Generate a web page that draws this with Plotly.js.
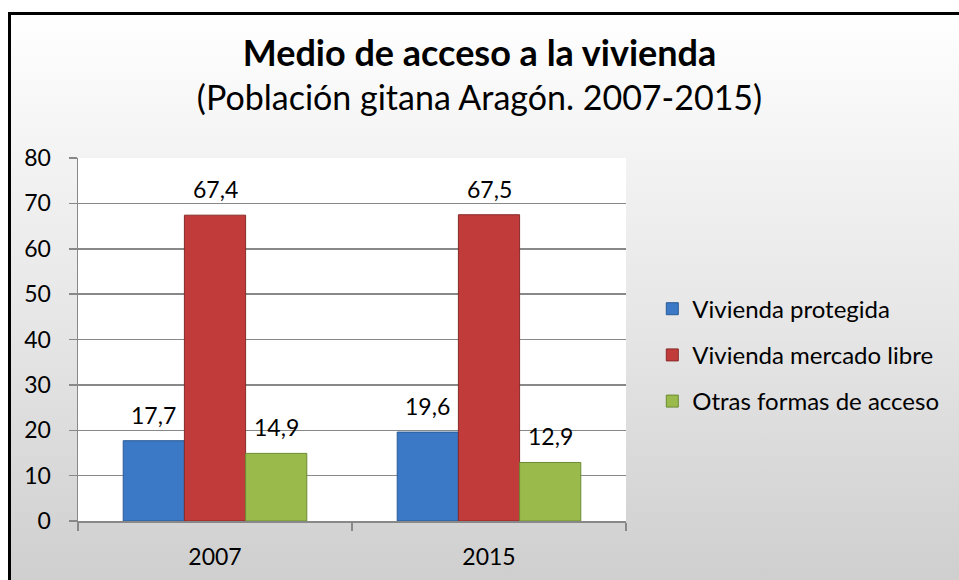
<!DOCTYPE html>
<html>
<head>
<meta charset="utf-8">
<script src="https://cdn.plot.ly/plotly-3.0.1.min.js"></script>
<style>
  html, body { margin: 0; padding: 0; background: #ffffff; }
  #wrap { position: relative; width: 959px; height: 580px; overflow: hidden; }
  #bg { position: absolute; left: 8px; top: 12px; width: 951px; height: 568px;
        box-sizing: border-box; border-top: 3px solid #000; border-left: 3px solid #000;
        background: linear-gradient(to bottom, #ffffff 0%, #f3f3f3 25%, #e6e6e6 55%, #d9d9d9 80%, #cfcfcf 100%); }
  #chart { position: absolute; left: 0; top: 0; width: 959px; height: 580px; }
</style>
</head>
<body>
<div id="wrap">
  <div id="bg"></div>
  <div id="chart"></div>
</div>
<script>
// ---- data ----
const categories = ['2007', '2015'];
const seriesNames = ['Vivienda protegida', 'Vivienda mercado libre', 'Otras formas de acceso'];
const viviendaProtegida = [17.7, 19.6];
const viviendaMercadoLibre = [67.4, 67.5];
const otrasFormas = [14.9, 12.9];
const yTicks = [0, 10, 20, 30, 40, 50, 60, 70, 80];

// ---- styles ----
const seriesValues = [viviendaProtegida, viviendaMercadoLibre, otrasFormas];
const fills = ['#3b78c5', '#c13b3a', '#9abb4c'];
const lines = ['#2a5a96', '#8a2a2a', '#6c8a32'];
const FONT = 'Lato, "Liberation Sans", sans-serif';

const traces = seriesValues.map((vals, i) => ({
  type: 'bar',
  name: seriesNames[i],
  x: categories,
  y: vals,
  legendgroup: 'g' + i,
  marker: { color: fills[i], line: { color: lines[i], width: 1 } },
  hoverinfo: 'none'
}));

const bargap = 0.33;
const barW = (1 - bargap) / seriesValues.length;
const annotations = [];
seriesValues.forEach((vals, i) => {
  vals.forEach((v, j) => {
    annotations.push({
      x: j + (i - (seriesValues.length - 1) / 2) * barW,
      y: v,
      xref: 'x', yref: 'y',
      text: String(v).replace('.', ','),
      showarrow: false,
      yanchor: 'middle',
      yshift: 26,
      font: { family: FONT, size: 23, color: '#000' }
    });
  });
});

const layout = {
  width: 959, height: 580,
  paper_bgcolor: 'rgba(0,0,0,0)',
  plot_bgcolor: '#ffffff',
  margin: { l: 78, r: 333, t: 158, b: 59, pad: 0 },
  separators: ',.',
  font: { family: FONT, size: 22, color: '#000' },
  title: {
    text: '<span style="font-size:36px"><b>Medio de acceso a la vivienda</b></span><br>(Población gitana Aragón. 2007-2015)',
    font: { family: FONT, size: 34, color: '#000' },
    x: 0.5, xanchor: 'center',
    y: 1 - 66 / 580, yanchor: 'top', yref: 'container'
  },
  barmode: 'group',
  bargap: bargap,
  bargroupgap: 0,
  xaxis: {
    type: 'category',
    tickson: 'boundaries',
    ticks: 'outside', ticklen: 8, tickcolor: '#888', tickwidth: 1.5,
    showline: true, linecolor: '#888', linewidth: 1.5,
    showgrid: false,
    ticklabelstandoff: 15,
    tickfont: { family: FONT, size: 23, color: '#000' }
  },
  yaxis: {
    range: [0, 80],
    tickvals: yTicks,
    ticks: 'outside', ticklen: 8, tickcolor: '#888', tickwidth: 1.5,
    showline: true, linecolor: '#888', linewidth: 1.5,
    showgrid: true, gridcolor: '#888', gridwidth: 1.5,
    zeroline: false,
    ticklabelstandoff: 13,
    tickfont: { family: FONT, size: 23, color: '#000' }
  },
  legend: {
    x: 1.048, xanchor: 'left',
    y: 0.457, yanchor: 'middle',
    traceorder: 'grouped',
    tracegroupgap: 12,
    bgcolor: 'rgba(0,0,0,0)',
    font: { family: FONT, size: 24, color: '#000' },
    itemwidth: 30
  },
  annotations: annotations,
  showlegend: true
};

Plotly.newPlot('chart', traces, layout, { displayModeBar: false, staticPlot: true });
</script>
</body>
</html>
